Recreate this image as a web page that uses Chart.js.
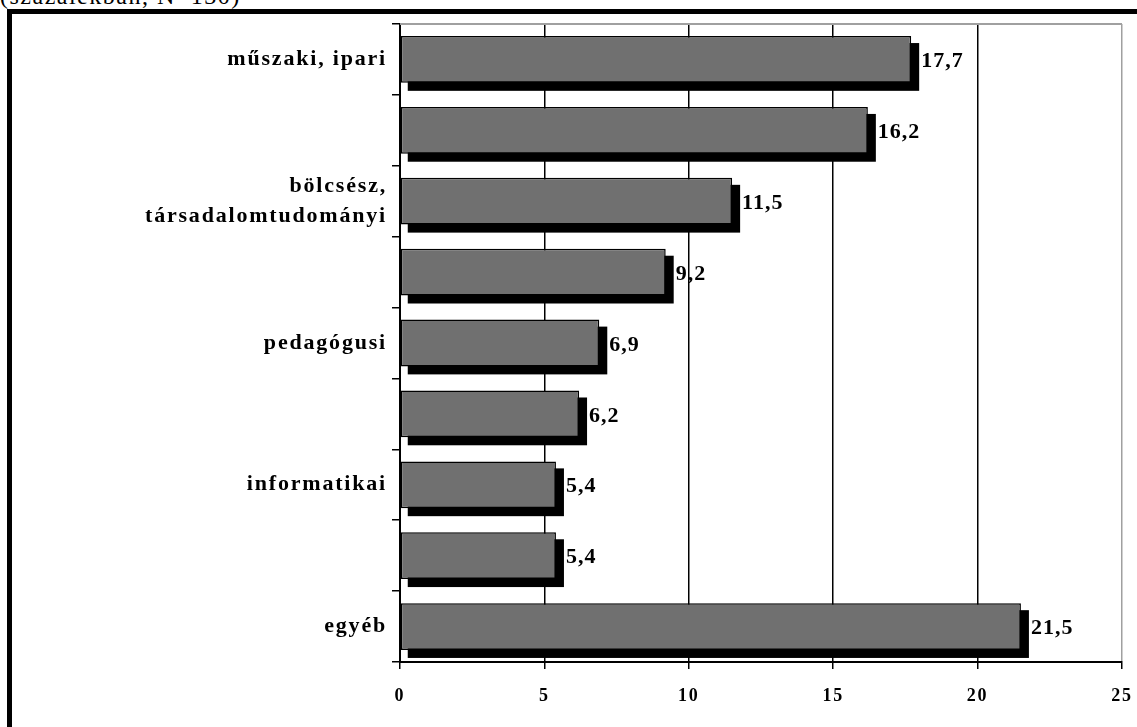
<!DOCTYPE html>
<html>
<head>
<meta charset="utf-8">
<script src="https://cdn.jsdelivr.net/npm/chart.js@4/dist/chart.umd.min.js"></script>
<style>
    body { margin: 0; background: #fff; overflow: hidden; }
    #wrap { position: relative; width: 1137px; height: 727px; }
    #caption { position: absolute; left: 0; top: -16px; font: 24px 'Liberation Serif', serif; letter-spacing: 1.5px; line-height: 24px; white-space: nowrap; }
    #frame { position: absolute; left: 7px; top: 9px; width: 1200px; height: 800px; border: 5px solid #000; box-sizing: border-box; }
    canvas { position: absolute; left: 0; top: 0; }
</style>
</head>
<body>
<div id="wrap">
    <div id="caption">(százalékban, N=130)</div>
    <div id="frame"></div>
    <canvas id="chart" width="1137" height="727"></canvas>
</div>
<script>
// category labels - every other one is not printed in the original chart
const categories = ['műszaki, ipari', '', ['bölcsész,', 'társadalomtudományi'], '', 'pedagógusi', '', 'informatikai', '', 'egyéb'];
const values = [17.7, 16.2, 11.5, 9.2, 6.9, 6.2, 5.4, 5.4, 21.5];
const xTicks = [0, 5, 10, 15, 20, 25];

const serif = "'Liberation Serif', 'Times New Roman', serif";

// black drop shadow behind each bar, offset down-right, plus the value labels
const barShadow = {
    id: 'barShadow',
    beforeDatasetsDraw(chart) {
        const ctx = chart.ctx;
        const meta = chart.getDatasetMeta(0);
        ctx.save();
        ctx.fillStyle = '#000';
        meta.data.forEach((bar) => {
            const h = bar.height;
            ctx.fillRect(bar.base + 7, bar.y - h / 2 + 7, bar.x - bar.base + 1, h + 1);
        });
        ctx.restore();
    },
    afterDatasetsDraw(chart) {
        const ctx = chart.ctx;
        const meta = chart.getDatasetMeta(0);
        ctx.save();
        ctx.letterSpacing = '1px';
        ctx.font = 'bold 22px ' + serif;
        ctx.fillStyle = '#000';
        ctx.textBaseline = 'middle';
        ctx.textAlign = 'left';
        meta.data.forEach((bar, i) => {
            ctx.fillText(String(values[i]).replace('.', ','), bar.x + 10, bar.y + 2);
        });
        ctx.restore();
    }
};

// grey plot-area border on top
const plotBorder = {
    id: 'plotBorder',
    beforeDraw(chart) {
        chart.ctx.letterSpacing = '1.8px';
    },
    afterDraw(chart) {
        const { ctx, chartArea } = chart;
        ctx.save();
        ctx.strokeStyle = '#a0a0a0';
        ctx.lineWidth = 2;
        ctx.beginPath();
        ctx.moveTo(chartArea.left, chartArea.top);
        ctx.lineTo(chartArea.right, chartArea.top);
        ctx.stroke();
        ctx.restore();
    }
};

new Chart(document.getElementById('chart'), {
    type: 'bar',
    data: {
        labels: categories,
        datasets: [{
            data: values,
            backgroundColor: '#707070',
            borderColor: '#000',
            borderWidth: 1.5,
            borderSkipped: false,
            categoryPercentage: 1,
            barPercentage: 0.66,
        }]
    },
    options: {
        indexAxis: 'y',
        responsive: false,
        animation: false,
        devicePixelRatio: 1,
        layout: { padding: { top: 24, right: 0, left: 0, bottom: 0 } },
        plugins: { legend: { display: false }, tooltip: { enabled: false } },
        scales: {
            x: {
                min: 0,
                max: 25,
                afterBuildTicks: (scale) => { scale.ticks = xTicks.map((v) => ({ value: v })); },
                afterFit: (scale) => {
                    scale.height = 65;
                    scale.paddingLeft = 0;
                    scale.paddingRight = 15;
                },
                grid: {
                    color: (c) => (c.tick && c.tick.value === 25 ? '#a0a0a0' : '#000'),
                    lineWidth: 1.5,
                    tickLength: 7,
                    tickColor: '#000',
                },
                border: { color: '#000', width: 2 },
                ticks: {
                    color: '#000',
                    font: { family: serif, size: 18, weight: 'bold' },
                    padding: 17,
                    maxRotation: 0,
                },
            },
            y: {
                afterFit: (scale) => { scale.width = 400; },
                grid: {
                    offset: true,
                    drawOnChartArea: false,
                    tickLength: 8,
                    tickColor: '#000',
                    lineWidth: 1.5,
                },
                border: { color: '#000', width: 2 },
                ticks: {
                    autoSkip: false,
                    color: '#000',
                    font: { family: serif, size: 22, weight: 'bold', lineHeight: 1.35 },
                    padding: 5,
                },
            },
        },
    },
    plugins: [barShadow, plotBorder],
});
</script>
</body>
</html>
